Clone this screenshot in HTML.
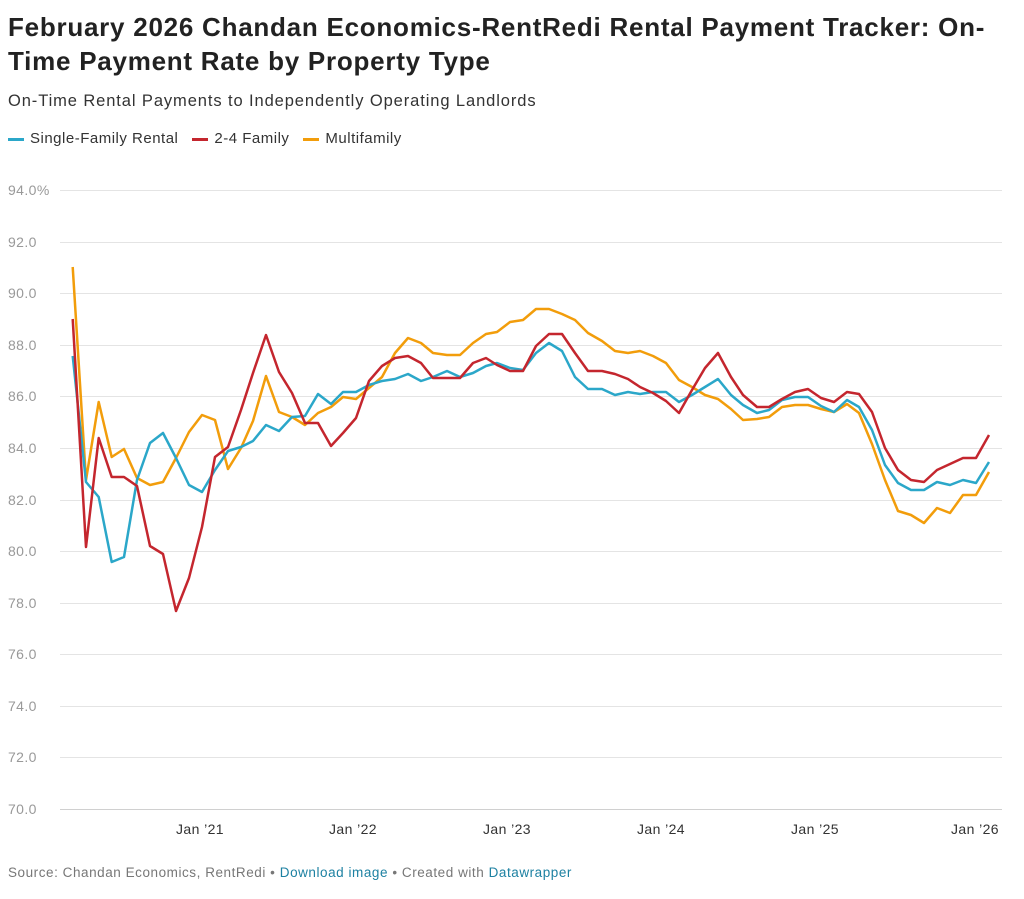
<!DOCTYPE html>
<html><head><meta charset="utf-8"><style>
body{margin:0;background:#fff;font-family:"Liberation Sans",sans-serif;}
.t{position:absolute;left:8px;top:10px;width:1015px;font-size:26px;font-weight:bold;line-height:34px;color:#222;letter-spacing:0.75px;white-space:nowrap}
.s{position:absolute;left:8px;top:92px;font-size:16.5px;color:#333;letter-spacing:0.9px}
.lg{position:absolute;left:8px;top:130px;font-size:15px;color:#333;letter-spacing:0.5px}
.lg span{display:inline-block;margin-right:14px}
.lg i{display:inline-block;width:16px;height:3px;vertical-align:middle;margin-right:6px}
.f{position:absolute;left:8px;top:865px;font-size:13.5px;color:#777;letter-spacing:0.55px}
.f b{font-weight:normal;color:#1d81a2}
</style></head><body>
<div class="t">February 2026 Chandan Economics-RentRedi Rental Payment Tracker: On-<br>Time Payment Rate by Property Type</div>
<div class="s">On-Time Rental Payments to Independently Operating Landlords</div>
<div class="lg"><span><i style="background:#2ba7c9"></i>Single-Family Rental</span><span><i style="background:#c4262e"></i>2-4 Family</span><span><i style="background:#f29d0b"></i>Multifamily</span></div>
<svg width="1024" height="899" style="position:absolute;left:0;top:0">
<g stroke="#e4e4e4" stroke-width="1">
<line x1="60" x2="1002" y1="190.5" y2="190.5"/><line x1="60" x2="1002" y1="242.5" y2="242.5"/><line x1="60" x2="1002" y1="293.5" y2="293.5"/><line x1="60" x2="1002" y1="345.5" y2="345.5"/><line x1="60" x2="1002" y1="396.5" y2="396.5"/><line x1="60" x2="1002" y1="448.5" y2="448.5"/><line x1="60" x2="1002" y1="500.5" y2="500.5"/><line x1="60" x2="1002" y1="551.5" y2="551.5"/><line x1="60" x2="1002" y1="603.5" y2="603.5"/><line x1="60" x2="1002" y1="654.5" y2="654.5"/><line x1="60" x2="1002" y1="706.5" y2="706.5"/><line x1="60" x2="1002" y1="757.5" y2="757.5"/><line x1="60" x2="1002" y1="809.5" y2="809.5" stroke="#d0d0d0"/>
</g>
<g font-size="14" fill="#999" font-family="Liberation Sans,sans-serif" letter-spacing="0.4">
<text x="8" y="195">94.0%</text><text x="8" y="247">92.0</text><text x="8" y="298">90.0</text><text x="8" y="350">88.0</text><text x="8" y="401">86.0</text><text x="8" y="453">84.0</text><text x="8" y="505">82.0</text><text x="8" y="556">80.0</text><text x="8" y="608">78.0</text><text x="8" y="659">76.0</text><text x="8" y="711">74.0</text><text x="8" y="762">72.0</text><text x="8" y="814">70.0</text>
</g>
<g font-size="14" fill="#333" text-anchor="middle" font-family="Liberation Sans,sans-serif" letter-spacing="0.4">
<text x="200" y="834">Jan ’21</text><text x="353" y="834">Jan ’22</text><text x="507" y="834">Jan ’23</text><text x="661" y="834">Jan ’24</text><text x="815" y="834">Jan ’25</text><text x="975" y="834">Jan ’26</text>
</g>
<g fill="none" stroke-width="2.5" stroke-linejoin="round">
<polyline stroke="#f29d0b" points="72.7,267 86,480 98.7,402 111.7,457 124,449 137,478 150,485 163,482 176,458 189,432 202,415 215,420 228,469 241,448 253,421 266,376 279,412 292,417 305,425 318,413 331,407 343,397 356,399 369,388 382,377 395,353 408,338 421,343 433,353 447,355 460,355 473,343 486,334 497,332 510,322 523,320 536,309 549,309 562,314 575,320 588,333 602,341 615,351 628,353 640,351 653,356 666,363 679,380 692,387 705,395 718,399 731,409 743,420 757,419 769,417 782,407 795,405 808,405 821,409 834,412 847,404 859,413 872,444 885,480 898,511 911,515 924,523 937,508 950,513 963,495 976,495 989,472"/>
<polyline stroke="#2ba7c9" points="72.7,356 86,482 98.7,497 111.7,562 124,557 137,480 150,443 163,433 176,458 189,485 202,492 215,470 228,451 241,447 253,441 266,425 279,431 292,417 305,416 318,394 331,404 343,392 356,392 369,385 382,381 395,379 408,374 421,381 433,377 447,371 460,377 473,373 486,366 497,363 510,368 523,370 536,353 549,343 562,351 575,377 588,389 602,389 615,395 628,392 640,394 653,392 666,392 679,402 692,395 705,387 718,379 731,395 743,405 757,413 769,410 782,400 795,397 808,397 821,406 834,412 847,400 859,407 872,430 885,465 898,483 911,490 924,490 937,482 950,485 963,480 976,483 989,462"/>
<polyline stroke="#c4262e" points="72.7,319 86,547 98.7,438 111.7,477 124,477 137,486 150,546 163,554 176,611 189,578 202,527 215,457 228,447 241,410 253,373 266,335 279,372 292,393 305,423 318,423 331,446 343,433 356,418 369,381 382,366 395,358 408,356 421,363 433,378 447,378 460,378 473,363 486,358 497,365 510,371 523,371 536,346 549,334 562,334 575,353 588,371 602,371 615,374 628,379 640,387 653,393 666,401 679,413 692,390 705,368 718,353 731,377 743,395 757,407 769,407 782,399 795,392 808,389 821,398 834,402 847,392 859,394 872,412 885,448 898,470 911,480 924,482 937,470 950,464 963,458 976,458 989,435"/>
</g>
</svg>
<div class="f">Source: Chandan Economics, RentRedi • <b>Download image</b> • Created with <b>Datawrapper</b></div>
</body></html>
